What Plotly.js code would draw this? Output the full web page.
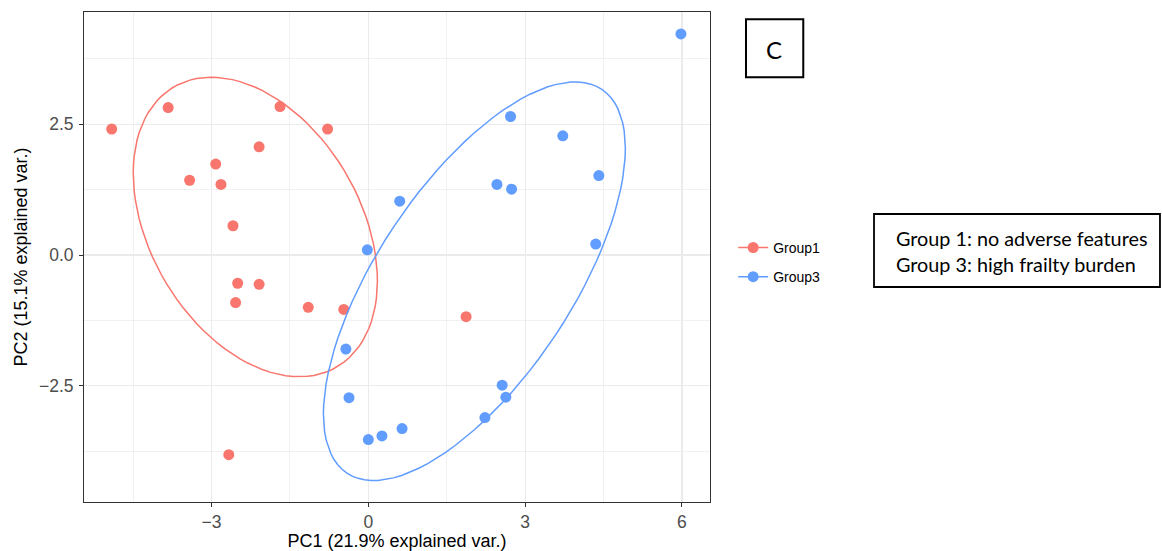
<!DOCTYPE html>
<html>
<head>
<meta charset="utf-8">
<script src="https://cdn.plot.ly/plotly-3.0.1.min.js"></script>
<style>html,body{margin:0;padding:0;background:#fff;}#chart{width:1162px;height:551px;}</style>
</head>
<body>
<div id="chart"></div>
<script>
// ---- data ----
const group1Name = "Group1";
const group3Name = "Group3";
const group1PC1 = [-4.91, -3.83, -1.69, -0.78, -2.09, -2.92, -3.42, -2.82, -2.59, -2.50, -2.09, -2.54, -1.15, -0.47, -2.67, 1.87];
const group1PC2 = [2.41, 2.82, 2.84, 2.41, 2.07, 1.74, 1.43, 1.35, 0.56, -0.54, -0.56, -0.91, -1.00, -1.04, -3.82, -1.18];
const group3PC1 = [0.60, -0.02, -0.43, -0.37, 0.00, 0.26, 0.645, 2.23, 2.56, 2.63, 5.98, 2.72, 3.72, 4.41, 2.46, 2.74, 4.35];
const group3PC2 = [1.03, 0.10, -1.80, -2.73, -3.53, -3.46, -3.32, -3.11, -2.49, -2.72, 4.23, 2.65, 2.28, 1.52, 1.35, 1.26, 0.21];
const xTitle = "PC1 (21.9% explained var.)";
const yTitle = "PC2 (15.1% explained var.)";
const xTickVals = [-3, 0, 3, 6];
const xTickText = ["\u22123", "0", "3", "6"];
const yTickVals = [-2.5, 0, 2.5];
const yTickText = ["\u22122.5", "0.0", "2.5"];
const noteLines = ["Group 1: no adverse features", "Group 3: high frailty burden"];
const panelLabel = "C";
const ellipseProb = 0.68;

const red = "#F8766D", blue = "#619CFF";

// normal data ellipse (as in ggbiplot)
function dataEllipse(xs, ys, prob) {
  const n = xs.length;
  const mx = xs.reduce((a, b) => a + b, 0) / n;
  const my = ys.reduce((a, b) => a + b, 0) / n;
  let sxx = 0, syy = 0, sxy = 0;
  for (let i = 0; i < n; i++) {
    sxx += (xs[i] - mx) ** 2; syy += (ys[i] - my) ** 2; sxy += (xs[i] - mx) * (ys[i] - my);
  }
  sxx /= (n - 1); syy /= (n - 1); sxy /= (n - 1);
  const r11 = Math.sqrt(sxx), r12 = sxy / r11, r22 = Math.sqrt(syy - r12 * r12);
  const ed = Math.sqrt(-2 * Math.log(1 - prob));
  const ex = [], ey = [];
  const N = 100;
  for (let k = 0; k <= N; k++) {
    const t = -Math.PI + 2 * Math.PI * k / N;
    const c = Math.cos(t), s = Math.sin(t);
    ex.push((c * r11) * ed + mx);
    ey.push((c * r12 + s * r22) * ed + my);
  }
  return { x: ex, y: ey };
}
// interleave nulls so the line part of the legend key does not connect points
function gapped(arr) { const out = []; arr.forEach(v => { out.push(v); out.push(null); }); return out; }

const e1 = dataEllipse(group1PC1, group1PC2, ellipseProb);
const e3 = dataEllipse(group3PC1, group3PC2, ellipseProb);

const traces = [
  { type: "scatter", mode: "lines+markers", name: group1Name, legendgroup: "g1",
    x: gapped(group1PC1), y: gapped(group1PC2), connectgaps: false,
    marker: { color: red, size: 11 }, line: { color: red, width: 1.4 }, hoverinfo: "x+y" },
  { type: "scatter", mode: "lines+markers", name: group3Name, legendgroup: "g3",
    x: gapped(group3PC1), y: gapped(group3PC2), connectgaps: false,
    marker: { color: blue, size: 11 }, line: { color: blue, width: 1.4 }, hoverinfo: "x+y" },
  { type: "scatter", mode: "lines", x: e1.x, y: e1.y, showlegend: false, legendgroup: "g1",
    line: { color: red, width: 1.5 }, hoverinfo: "skip" },
  { type: "scatter", mode: "lines", x: e3.x, y: e3.y, showlegend: false, legendgroup: "g3",
    line: { color: blue, width: 1.5 }, hoverinfo: "skip" }
];

const axisCommon = {
  showline: true, mirror: true, linecolor: "#333333", linewidth: 1,
  ticks: "outside", ticklen: 4, tickcolor: "#333333", tickwidth: 1,
  showgrid: true, gridcolor: "#EBEBEB", gridwidth: 1.1, zeroline: false,
  tickfont: { family: "Liberation Sans, Arial, sans-serif", size: 17.5, color: "#4D4D4D" }
};

const layout = {
  width: 1162, height: 551,
  margin: { l: 84, r: 452, t: 12, b: 49 },
  paper_bgcolor: "#ffffff", plot_bgcolor: "#ffffff",
  font: { family: "Liberation Sans, Arial, sans-serif", color: "#000" },
  xaxis: Object.assign({}, axisCommon, {
    range: [-5.44, 6.536], tickmode: "array", tickvals: xTickVals, ticktext: xTickText,
    minor: { dtick: 1.5, tick0: 0, showgrid: true, gridcolor: "#EBEBEB", gridwidth: 0.7, ticks: "" },
    title: { text: xTitle, font: { size: 18, color: "#000" }, standoff: 4 }
  }),
  yaxis: Object.assign({}, axisCommon, {
    range: [-4.725, 4.649], tickmode: "array", tickvals: yTickVals, ticktext: yTickText,
    minor: { dtick: 1.25, tick0: 0, showgrid: true, gridcolor: "#EBEBEB", gridwidth: 0.7, ticks: "" },
    ticklabelstandoff: 2,
    title: { text: yTitle, font: { size: 18, color: "#000" }, standoff: 6 }
  }),
  showlegend: true,
  legend: {
    x: 1.037, xanchor: "left", y: 0.489, yanchor: "middle",
    font: { family: "Liberation Sans, Arial, sans-serif", size: 14, color: "#000" },
    tracegroupgap: 8, bgcolor: "rgba(0,0,0,0)", borderwidth: 0
  },
  shapes: [
    { type: "rect", xref: "paper", yref: "paper", x0: 1.262, x1: 1.7188, y0: 0.4388, y1: 0.5878,
      line: { color: "#000", width: 1.8 }, fillcolor: "rgba(0,0,0,0)" },
    { type: "rect", xref: "paper", yref: "paper", x0: 1.0575, x1: 1.149, y0: 0.8667, y1: 0.985,
      line: { color: "#000", width: 2 }, fillcolor: "rgba(0,0,0,0)" }
  ],
  annotations: [
    { xref: "paper", yref: "paper", x: 1.2935, y: 0.538, xanchor: "left", yanchor: "middle",
      text: noteLines[0], showarrow: false, font: { family: "Lato, sans-serif", size: 19.8, color: "#000" } },
    { xref: "paper", yref: "paper", x: 1.2935, y: 0.485, xanchor: "left", yanchor: "middle",
      text: noteLines[1], showarrow: false, font: { family: "Lato, sans-serif", size: 19.8, color: "#000" } },
    { xref: "paper", yref: "paper", x: 1.1027, y: 0.9239, xanchor: "center", yanchor: "middle",
      text: panelLabel, showarrow: false, font: { family: "Lato, sans-serif", size: 24, color: "#000" } }
  ]
};

Plotly.newPlot("chart", traces, layout, { displayModeBar: false, staticPlot: true });
</script>
</body>
</html>
